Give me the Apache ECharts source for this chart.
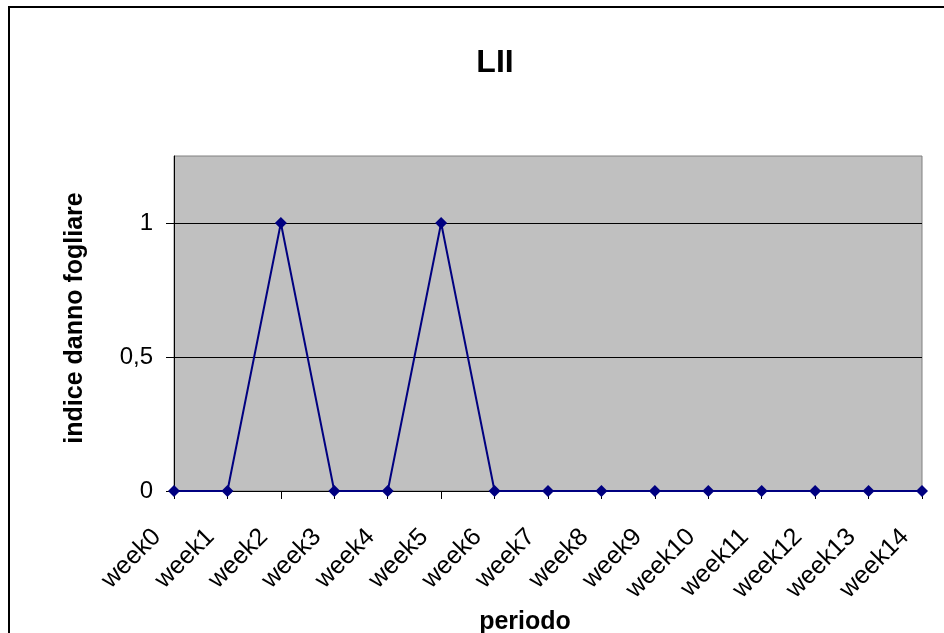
<!DOCTYPE html>
<html>
<head>
<meta charset="utf-8">
<script src="https://cdn.jsdelivr.net/npm/echarts@6/dist/echarts.min.js"></script>
<style>
html,body{margin:0;padding:0;background:#fff;}
#chart{width:944px;height:633px;}
</style>
</head>
<body>
<div id="chart"></div>
<script>
const chartTitle = 'LII';
const categories = ['week0','week1','week2','week3','week4','week5','week6','week7','week8','week9','week10','week11','week12','week13','week14'];
const values = [0,0,1,0,0,1,0,0,0,0,0,0,0,0,0];
const yTicks = [0, 0.5, 1];
const xTitle = 'periodo';
const yTitle = 'indice danno fogliare';

const FONT = '"Liberation Sans", Arial, sans-serif';
const chart = echarts.init(document.getElementById('chart'));
chart.setOption({
  animation: false,
  backgroundColor: '#fff',
  textStyle: { fontFamily: FONT },
  graphic: [
    { type: 'rect', shape: { x: 9, y: 7, width: 960, height: 700 }, style: { fill: 'none', stroke: '#000', lineWidth: 2 }, z: 100 },
    { type: 'text', x: 495, y: 63, style: { text: chartTitle, font: 'bold 32px ' + FONT, fill: '#000', textAlign: 'center', textVerticalAlign: 'middle' } }
  ],
  grid: {
    left: 174, right: 22, top: 156, bottom: 142,
    outerBoundsMode: 'none', containLabel: false,
    show: true, backgroundColor: '#C0C0C0', borderColor: '#808080', borderWidth: 1
  },
  xAxis: {
    type: 'category',
    data: categories,
    boundaryGap: false,
    name: xTitle,
    nameLocation: 'middle',
    nameGap: 106,
    nameTextStyle: { fontSize: 25, fontWeight: 'bold', color: '#000', fontFamily: FONT, padding: [0, 46, 0, 0] },
    axisLine: { lineStyle: { color: '#000', width: 1 } },
    axisTick: { show: true, alignWithLabel: true, length: 8, lineStyle: { color: '#000' } },
    axisLabel: { rotate: 45, fontSize: 25, color: '#000', fontFamily: FONT, margin: 25, padding: [0, 24, 0, 0], interval: 0 },
    splitLine: { show: false }
  },
  yAxis: {
    type: 'value',
    min: 0, max: 1.25, interval: 0.5,
    name: yTitle,
    nameLocation: 'middle',
    nameGap: 86,
    nameRotate: 90,
    nameTextStyle: { fontSize: 25, fontWeight: 'bold', color: '#000', fontFamily: FONT, padding: [0, 0, 0, 11] },
    axisLine: { show: true, lineStyle: { color: '#000', width: 1 } },
    axisTick: { show: true, length: 8, lineStyle: { color: '#000' }, customValues: yTicks },
    axisLabel: { fontSize: 24, color: '#000', fontFamily: FONT, margin: 21, customValues: yTicks,
      formatter: v => String(v).replace('.', ',') },
    splitLine: { show: true, lineStyle: { color: ['#000', '#000', '#000', '#808080'], width: 1 } }
  },
  series: [{
    type: 'line',
    data: values,
    symbol: 'diamond',
    symbolSize: 12,
    lineStyle: { color: '#000080', width: 2 },
    itemStyle: { color: '#000080' },
    z: 10
  }]
});
</script>
</body>
</html>
